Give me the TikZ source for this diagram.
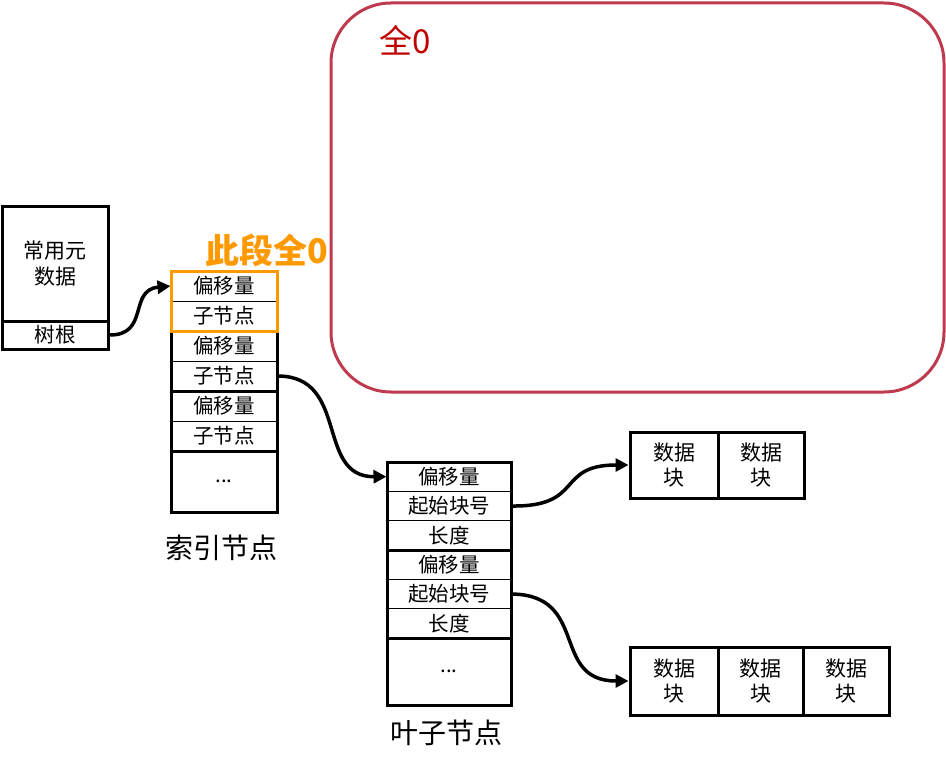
\documentclass[tikz,border=0pt]{standalone}
\usepackage{fontspec}
\setmainfont{Noto Sans CJK SC}
\usetikzlibrary{arrows.meta}
\definecolor{boxred}{HTML}{BE3A4E}
\definecolor{textred}{HTML}{C00000}
\definecolor{orng}{HTML}{FF9900}
\tikzset{
  x=1pt,y=-1pt,
  cell/.style={draw, line width=1pt, inner sep=0pt, font=\fontsize{20.5}{24}\selectfont},
  irow/.style={cell, minimum width=106pt, minimum height=30pt},
  lrow/.style={cell, minimum width=124pt, minimum height=29.33pt},
  dblk/.style={draw, line width=3pt, inner sep=0pt, align=center, font=\fontsize{21}{25}\selectfont},
  thick3/.style={line width=3pt},
  conn/.style={line width=3.5pt, -{Triangle[length=13pt,width=13pt]}},
  caption/.style={font=\fontsize{28}{32}\selectfont}
}
\begin{document}
\begin{tikzpicture}
\useasboundingbox (0,0) rectangle (946,768);
% big red rounded box
\draw[boxred, line width=3pt, rounded corners=60pt] (331,3) rectangle (944,392);
\node[textred, font=\fontsize{33}{36}\selectfont] (all0) at (405,40) {全0};
% metadata
\node[cell, minimum width=106pt, minimum height=115pt, align=center, font=\fontsize{21}{26}\selectfont] (m1) at (55,263.5) {常用元\\数据};
\node[cell, minimum width=106pt, minimum height=28pt] (m2) at (55,335) {树根};
\draw[thick3] (2,206) rectangle (108,349);
\draw[thick3] (2,321) -- (108,321);
% index node
\node[irow] (i1) at (224,286) {偏移量};
\node[irow] (i2) at (224,316) {子节点};
\node[irow] (i3) at (224,346) {偏移量};
\node[irow] (i4) at (224,376) {子节点};
\node[irow] (i5) at (224,406) {偏移量};
\node[irow] (i6) at (224,436) {子节点};
\node[cell, minimum width=106pt, minimum height=61pt] (i7) at (224,481.5) {...};
\draw[thick3] (171,271) rectangle (277,512);
\draw[thick3] (171,391) -- (277,391);
\draw[thick3] (171,451) -- (277,451);
\draw[orng, line width=3pt] (171,271) rectangle (277,331);
\node[orng, font=\bfseries\fontsize{34}{38}\selectfont] (seg0) at (267,250) {此段全0};
\node[caption] (idxcap) at (221,548) {索引节点};
% leaf node
\node[lrow] (l1) at (449,476.67) {偏移量};
\node[lrow] (l2) at (449,506) {起始块号};
\node[lrow] (l3) at (449,535.33) {长度};
\node[lrow] (l4) at (449,564.67) {偏移量};
\node[lrow] (l5) at (449,594) {起始块号};
\node[lrow] (l6) at (449,623.33) {长度};
\node[cell, minimum width=124pt, minimum height=67pt] (l7) at (449,671.5) {...};
\draw[thick3] (387,462) rectangle (511,705);
\draw[thick3] (387,550) -- (511,550);
\draw[thick3] (387,638) -- (511,638);
\node[caption] (leafcap) at (446,733) {叶子节点};
% data blocks
\node[dblk, minimum width=88pt, minimum height=66pt] (d1a) at (674,465) {数据\\块};
\node[dblk, minimum width=86pt, minimum height=66pt] (d1b) at (761,465) {数据\\块};
\node[dblk, minimum width=88pt, minimum height=68pt] (d2a) at (674,681) {数据\\块};
\node[dblk, minimum width=85pt, minimum height=68pt] (d2b) at (760.5,681) {数据\\块};
\node[dblk, minimum width=86pt, minimum height=68pt] (d2c) at (846,681) {数据\\块};
% connectors
\draw[conn] (m2.east) .. controls (150,336) and (128,290) .. (i1.west);
\draw[conn] (i4.east) .. controls (350,376) and (315,477) .. (l1.west);
\draw[conn] (l2.east) .. controls (585,507) and (555,465) .. (d1a.west);
\draw[conn] (l5.east) .. controls (590,595) and (550,681) .. (d2a.west);
\end{tikzpicture}
\end{document}
